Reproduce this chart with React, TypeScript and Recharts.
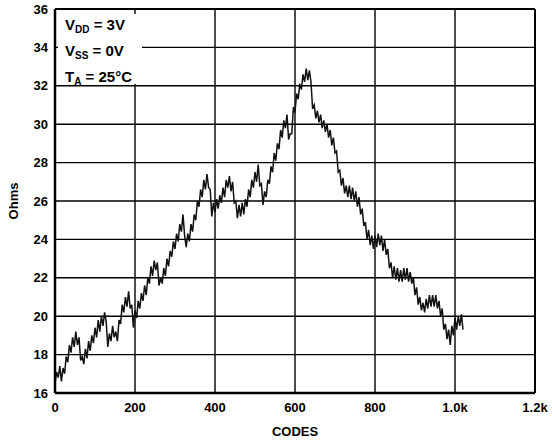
import React from 'react';
import { LineChart, Line, XAxis, YAxis, CartesianGrid, ReferenceLine, Label } from 'recharts';

// resistance, one sample every 4 codes (0 .. 1020)
const ohms = [
  16.5, 17.1, 16.8, 17.4, 16.6, 17.3, 17.0, 17.9, 17.6, 18.5, 18.1, 18.9, 18.4, 19.2, 18.5, 18.9,
  17.7, 17.9, 17.5, 18.3, 17.8, 18.7, 18.2, 19.0, 18.6, 19.4, 18.9, 19.8, 19.2, 20.0, 19.5, 20.2,
  19.7, 18.4, 19.1, 18.7, 19.5, 18.9, 19.2, 18.7, 19.8, 19.6, 20.6, 20.2, 21.0, 20.5, 21.3, 20.4,
  20.6, 19.4, 20.3, 19.9, 20.8, 20.4, 21.2, 20.8, 21.6, 21.1, 22.0, 21.7, 22.6, 22.1, 22.9, 22.4,
  22.8, 21.6, 22.0, 21.7, 22.5, 22.1, 23.0, 22.6, 23.4, 23.1, 23.9, 23.5, 24.3, 23.9, 24.8, 24.4,
  25.3, 24.2, 23.6, 24.3, 23.9, 24.8, 24.4, 25.3, 25.0, 26.0, 25.7, 26.6, 26.2, 27.1, 26.6, 27.4,
  26.7, 26.6, 25.2, 25.9, 25.4, 26.1, 25.6, 26.3, 25.9, 26.7, 26.2, 27.1, 26.7, 27.3, 26.5, 27.0,
  25.9, 26.0, 25.1, 25.8, 25.2, 25.9, 25.3, 26.1, 25.7, 26.6, 26.2, 27.1, 26.7, 27.5, 27.0, 27.9,
  26.8, 26.9, 25.8, 26.5, 26.2, 27.1, 26.9, 27.8, 27.5, 28.5, 28.1, 29.0, 28.7, 29.7, 29.3, 30.2,
  29.8, 30.5, 29.2, 29.5, 29.5, 30.9, 30.6, 31.6, 31.3, 32.1, 31.8, 32.6, 32.2, 32.9, 32.3, 32.8,
  32.2, 30.8, 31.0, 30.3, 30.7, 30.1, 30.5, 29.8, 30.2, 29.6, 30.0, 29.3, 29.7, 28.9, 29.3, 28.5,
  28.6, 27.5, 27.6, 26.8, 27.2, 26.4, 26.8, 26.2, 26.8, 26.1, 26.7, 26.0, 26.5, 25.7, 26.2, 25.3,
  25.6, 24.7, 24.9, 24.0, 24.5, 23.7, 24.2, 23.5, 24.2, 23.6, 24.3, 23.7, 24.2, 23.4, 24.0, 23.2,
  23.5, 22.5, 22.8, 22.0, 22.6, 21.9, 22.5, 21.8, 22.4, 21.8, 22.5, 21.9, 22.5, 21.8, 22.3, 21.7,
  22.0, 21.1, 21.5, 20.6, 21.0, 20.3, 20.7, 20.2, 20.9, 20.4, 21.1, 20.5, 21.1, 20.5, 21.1, 20.4,
  20.8, 20.0, 20.4, 19.3, 19.6, 18.8, 19.3, 18.5, 19.5, 19.0, 19.9, 19.3, 20.0, 19.5, 20.1, 19.3,
];
const codes = ohms.map((_, i) => i * 4);

const xTicks = [0, 200, 400, 600, 800, 1000, 1200];
const xTickLabels = ['0', '200', '400', '600', '800', '1.0k', '1.2k'];
const yTicks = [16, 18, 20, 22, 24, 26, 28, 30, 32, 34, 36];

const data = codes.map((c, i) => ({ code: c, ohms: ohms[i] }));

const font = '"Liberation Sans", Arial, Helvetica, sans-serif';
const tickStyle = { fill: '#000', fontSize: 13, fontWeight: 700, fontFamily: font };

export default function App() {
  return (
    <div style={{ position: 'absolute', left: 0, top: 0, width: 552, height: 441, background: '#fff' }}>
      <LineChart width={552} height={441} data={data} margin={{ top: 9, right: 17, left: 0, bottom: 0 }}>
        <CartesianGrid stroke="#000" strokeWidth={1.4} />
        <XAxis
          dataKey="code"
          type="number"
          domain={[0, 1200]}
          ticks={xTicks}
          tickFormatter={(v: number) => xTickLabels[xTicks.indexOf(v)]}
          tickLine={false}
          tickSize={8}
          tickMargin={2}
          axisLine={{ stroke: '#000', strokeWidth: 2.5 }}
          tick={tickStyle}
          height={48}
          interval={0}
        >
          <Label value="CODES" position="insideBottom" offset={5} style={tickStyle} />
        </XAxis>
        <YAxis
          type="number"
          domain={[16, 36]}
          ticks={yTicks}
          tickLine={false}
          tickSize={5}
          tickMargin={2}
          axisLine={{ stroke: '#000', strokeWidth: 2.5 }}
          tick={tickStyle}
          width={55}
          interval={0}
        >
          <Label value="Ohms" angle={-90} position="insideLeft" offset={13} style={{ ...tickStyle, textAnchor: 'middle' }} />
        </YAxis>
        <ReferenceLine y={36} stroke="#000" strokeWidth={2} />
        <ReferenceLine x={1200} stroke="#000" strokeWidth={2} />
        <Line
          type="linear"
          dataKey="ohms"
          stroke="#111"
          strokeWidth={1.5}
          dot={false}
          isAnimationActive={false}
        />
      </LineChart>
      <div
        style={{
          position: 'absolute',
          left: 58,
          top: 14,
          width: 84,
          height: 70,
          background: '#fff',
          fontFamily: font,
          fontWeight: 700,
          fontSize: 15,
          lineHeight: '21px',
          color: '#000',
          paddingLeft: 7,
          boxSizing: 'border-box',
        }}
      >
        <div>V<sub style={{ fontSize: 10, verticalAlign: -3 }}>DD</sub> = 3V</div>
        <div>V<sub style={{ fontSize: 10, verticalAlign: -3 }}>SS</sub> = 0V</div>
        <div>T<sub style={{ fontSize: 10, verticalAlign: -3 }}>A</sub> = 25°C</div>
      </div>
    </div>
  );
}
